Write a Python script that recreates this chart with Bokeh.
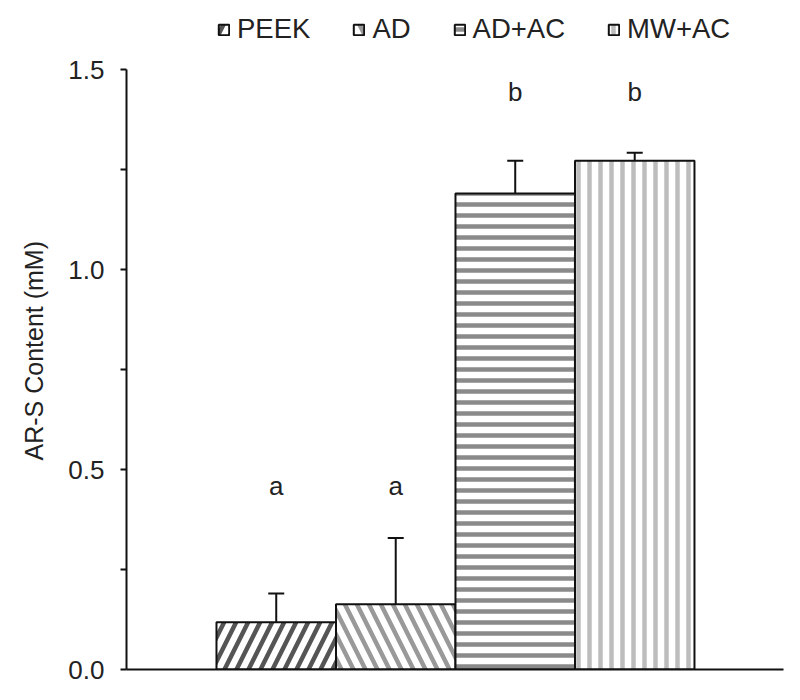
from bokeh.plotting import figure
from bokeh.models import (ColumnDataSource, Whisker, TeeHead, FixedTicker, Legend,
                          LegendItem, Range1d, PrintfTickFormatter, Title)
from bokeh.core.properties import value
from bokeh.embed import file_html
from bokeh.resources import INLINE

categories = ["PEEK", "AD", "AD+AC", "MW+AC"]
means = [0.118, 0.163, 1.19, 1.272]
errors = [0.072, 0.166, 0.082, 0.02]
letters = ["a", "a", "b", "b"]
letter_y = [0.46, 0.46, 1.445, 1.445]
y_ticks = [0.0, 0.5, 1.0, 1.5]
y_minor = [0.25, 0.75, 1.25]
y_axis_max = 1.5
y_title = "AR-S Content (mM)"

hatch_styles = [
    dict(hatch_pattern="right_diagonal_line", hatch_color="#555555", hatch_scale=24, hatch_weight=4.5),
    dict(hatch_pattern="left_diagonal_line", hatch_color="#999999", hatch_scale=24, hatch_weight=4.5),
    dict(hatch_pattern="horizontal_line", hatch_color="#8a8a8a", hatch_scale=11, hatch_weight=4.5),
    dict(hatch_pattern="vertical_line", hatch_color="#bdbdbd", hatch_scale=11, hatch_weight=4.5),
]

FONT = "Liberation Sans"
TXT = "#222222"

xs = [i + 1 for i in range(len(categories))]

p = figure(frame_width=657, frame_height=664, output_backend="svg", toolbar_location=None,
           x_range=Range1d(-0.253, 5.245), y_range=Range1d(0, 1.66),
           min_border_left=126, min_border_top=5, min_border_right=10, min_border_bottom=20)
p.outline_line_color = None
p.xgrid.visible = False
p.ygrid.visible = False
p.background_fill_color = "white"
p.border_fill_color = "white"

items = []
for i, cat in enumerate(categories):
    src = ColumnDataSource(dict(x=[xs[i]], top=[means[i]]))
    r = p.vbar(x="x", top="top", bottom=0, width=1.0, source=src,
               fill_color="white", line_color="#111111", line_width=2, **hatch_styles[i])
    items.append(LegendItem(label=cat, renderers=[r]))

err_src = ColumnDataSource(dict(x=xs, lower=means, upper=[m + e for m, e in zip(means, errors)]))
w = Whisker(source=err_src, base="x", lower="lower", upper="upper", dimension="height",
            line_color="#111111", line_width=2, lower_head=None,
            upper_head=TeeHead(size=16, line_width=2, line_color="#111111"))
p.add_layout(w)

p.text(x=xs, y=letter_y, text=letters, text_align="center", text_baseline="alphabetic",
       text_font=value(FONT), text_font_size="26px", text_color=TXT)

# axes
yax = p.yaxis[0]
yax.bounds = (0, y_axis_max)
yax.ticker = FixedTicker(ticks=y_ticks, minor_ticks=y_minor)
yax.formatter = PrintfTickFormatter(format="%.1f")
yax.axis_line_width = 2
yax.axis_line_color = "#111111"
yax.major_tick_line_width = 2
yax.minor_tick_line_width = 2
yax.major_tick_line_color = "#111111"
yax.minor_tick_line_color = "#111111"
yax.major_tick_in = 0
yax.major_tick_out = 6
yax.minor_tick_in = 0
yax.minor_tick_out = 6
yax.major_label_standoff = 16
yax.major_label_text_font = FONT
yax.major_label_text_font_size = "26px"
yax.major_label_text_color = TXT

ytitle = Title(text=y_title, align="left", offset=209, standoff=35,
               text_font=FONT, text_font_size="25px", text_font_style="normal",
               text_color=TXT)
p.add_layout(ytitle, "left")

xax = p.xaxis[0]
xax.ticker = FixedTicker(ticks=[])
xax.axis_line_width = 2
xax.axis_line_color = "#111111"
xax.major_tick_line_color = None
xax.minor_tick_line_color = None
xax.major_label_text_color = None

legend = Legend(items=items, orientation="horizontal", location=(91, 624),
                glyph_width=13, glyph_height=13, label_standoff=7, spacing=42,
                label_text_font=FONT, label_text_font_size="27.5px", label_text_color=TXT,
                label_height=30, padding=0, margin=0, border_line_color=None,
                background_fill_alpha=0)
p.add_layout(legend, "center")

open("out.html", "w").write(file_html(p, INLINE))
